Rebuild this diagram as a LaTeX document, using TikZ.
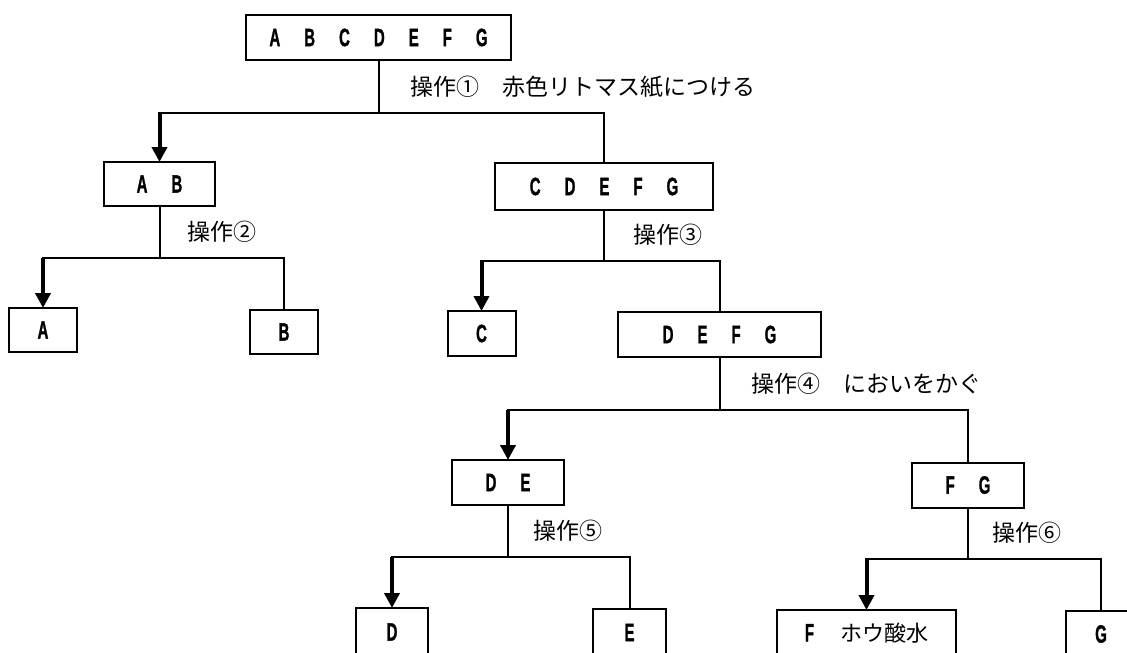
\documentclass[tikz,border=0pt]{standalone}
\usepackage{fontspec}
\usepackage{graphicx}
\setmainfont{Liberation Sans}
\newfontfamily\jp{Noto Sans CJK JP}
\newfontfamily\latb{Liberation Sans}[FakeBold=1.5]
\usetikzlibrary{arrows.meta}
\newcommand\cz[1]{\scalebox{0.6}[1]{\latb\fontsize{25}{25}\selectfont\bfseries #1}}
\newcommand\gp{\hspace{24pt}}
\tikzset{
  box/.style={draw, line width=2pt, inner sep=0pt, anchor=center},
  conn/.style={line width=2pt},
  bar/.style={line width=2.5pt, line cap=rect},
  arr/.style={line width=4pt, -{Triangle[width=15pt,length=15pt]}, shorten >=-1pt},
  lab/.style={anchor=west, inner sep=0pt, font=\jp\fontsize{23}{23}\selectfont},
}
\begin{document}
\begin{tikzpicture}[x=1pt,y=-1pt]
\useasboundingbox (0,0) rectangle (1127,653);
\clip (0,0) rectangle (1127,653);
\fill[white] (0,0) rectangle (1127,653);
% nodes
\node[box, minimum width=265pt, minimum height=45pt] (all) at (378.5,37.5) {\cz{A}\gp\cz{B}\gp\cz{C}\gp\cz{D}\gp\cz{E}\gp\cz{F}\gp\cz{G}};
\node[box, minimum width=111pt, minimum height=44pt] (ab) at (159.5,184) {\cz{A}\gp\cz{B}};
\node[box, minimum width=218pt, minimum height=47pt] (cdefg) at (604,186.5) {\cz{C}\gp\cz{D}\gp\cz{E}\gp\cz{F}\gp\cz{G}};
\node[box, minimum width=68pt, minimum height=44pt] (a) at (43,330) {\cz{A}};
\node[box, minimum width=68pt, minimum height=44pt] (b) at (284,332) {\cz{B}};
\node[box, minimum width=68pt, minimum height=45pt] (c) at (481.5,333.5) {\cz{C}};
\node[box, minimum width=203pt, minimum height=45pt] (defg) at (719.5,334.5) {\cz{D}\gp\cz{E}\gp\cz{F}\gp\cz{G}};
\node[box, minimum width=112pt, minimum height=45pt] (de) at (508,482.5) {\cz{D}\gp\cz{E}};
\node[box, minimum width=112pt, minimum height=45pt] (fg) at (968,485) {\cz{F}\gp\cz{G}};
\node[box, minimum width=72pt, minimum height=48pt] (d) at (392,632) {\cz{D}};
\node[box, minimum width=73pt, minimum height=47pt] (e) at (629.5,632.5) {\cz{E}};
\node[box, minimum width=179pt, minimum height=46pt] (f) at (866.5,633) {\cz{F}\hspace{26pt}{\jp\fontsize{22}{22}\selectfont ホウ酸水}};
\node[box, minimum width=70pt, minimum height=46pt] (g) at (1101,634) {\cz{G}};
% labels
\node[lab] (l1) at (410,87) {操作①　赤色リトマス紙につける};
\node[lab] (l2) at (187,232) {操作②};
\node[lab] (l3) at (633,235) {操作③};
\node[lab] (l4) at (751,384) {操作④　においをかぐ};
\node[lab] (l5) at (533,531) {操作⑤};
\node[lab] (l6) at (992,533) {操作⑥};
% junctions
\coordinate (j1) at (378.5,113);
\coordinate (j2) at (159.5,258);
\coordinate (j3) at (604,261);
\coordinate (j4) at (719.5,410);
\coordinate (j5) at (508,557);
\coordinate (j6) at (968,559);
% connectors
\draw[conn] (all.south) -- (j1);
\draw[bar] (ab.north |- j1) -- (cdefg.north |- j1);
\draw[arr] (ab.north |- j1) -- (ab.north);
\draw[conn] (cdefg.north |- j1) -- (cdefg.north);

\draw[conn] (ab.south) -- (j2);
\draw[bar] (a.north |- j2) -- (b.north |- j2);
\draw[arr] (a.north |- j2) -- (a.north);
\draw[conn] (b.north |- j2) -- (b.north);

\draw[conn] (cdefg.south) -- (j3);
\draw[bar] (c.north |- j3) -- (defg.north |- j3);
\draw[arr] (c.north |- j3) -- (c.north);
\draw[conn] (defg.north |- j3) -- (defg.north);

\draw[conn] (defg.south) -- (j4);
\draw[bar] (de.north |- j4) -- (fg.north |- j4);
\draw[arr] (de.north |- j4) -- (de.north);
\draw[conn] (fg.north |- j4) -- (fg.north);

\draw[conn] (de.south) -- (j5);
\draw[bar] (d.north |- j5) -- (e.north |- j5);
\draw[arr] (d.north |- j5) -- (d.north);
\draw[conn] (e.north |- j5) -- (e.north);

\draw[conn] (fg.south) -- (j6);
\draw[bar] (f.north |- j6) -- (g.north |- j6);
\draw[arr] (f.north |- j6) -- (f.north);
\draw[conn] (g.north |- j6) -- (g.north);
\end{tikzpicture}
\end{document}
